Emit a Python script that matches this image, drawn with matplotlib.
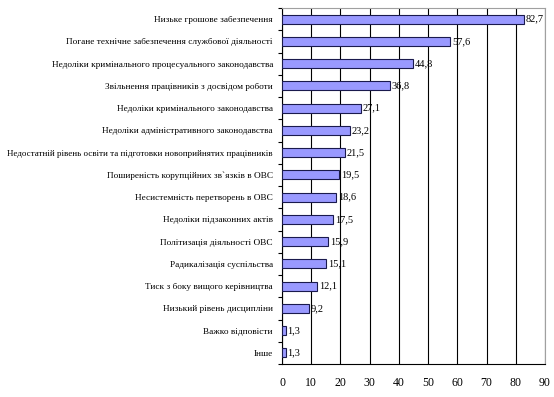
import numpy as np
import matplotlib
matplotlib.use('Agg')
import matplotlib.pyplot as plt

categories = [
    'Низьке грошове забезпечення',
    'Погане технічне забезпечення службової діяльності',
    'Недоліки кримінального процесуального законодавства',
    'Звільнення працівників з досвідом роботи',
    'Недоліки кримінального законодавства',
    'Недоліки адміністративного законодавства',
    'Недостатній рівень освіти та підготовки новоприйнятих працівників',
    'Поширеність корупційних зв`язків в ОВС',
    'Несистемність перетворень в ОВС',
    'Недоліки підзаконних актів',
    'Політизація діяльності ОВС',
    'Радикалізація суспільства',
    'Тиск з боку вищого керівництва',
    'Низький рівень дисципліни',
    'Важко відповісти',
    'Інше',
]
values = [82.7, 57.6, 44.8, 36.8, 27.1, 23.2, 21.5, 19.5, 18.6, 17.5,
          15.9, 15.1, 12.1, 9.2, 1.3, 1.3]
xticks = list(range(0, 100, 10))

plt.rcParams['font.family'] = ['Liberation Serif', 'DejaVu Serif']

fig = plt.figure(figsize=(5.54, 3.97), dpi=100)
ax = fig.add_axes([282 / 554, 1 - 364 / 397, 263 / 554, 356 / 397])

y = np.arange(len(categories))
ax.barh(y, values, height=0.4, color='#9999ff', edgecolor='#1a1a4d', linewidth=0.8, zorder=3)
for yi, v in zip(y, values):
    ax.text(v + 0.6, yi, f'{v:.1f}'.replace('.', ','), va='center', ha='left', fontsize=7.5, zorder=4)

ax.set_ylim(len(categories) - 0.5, -0.5)
ax.set_xlim(0, 90)
ax.set_xticks(xticks)
ax.set_yticks(y)
ax.set_yticklabels(categories, fontsize=6.7)
ax.set_yticks(np.arange(-0.5, len(categories), 1), minor=True)
ax.tick_params(axis='y', which='major', length=0, pad=6.5)
ax.tick_params(axis='y', which='minor', length=3, width=0.8, direction='out')
ax.tick_params(axis='x', length=0, labelsize=8.5, pad=9)

# the longest label is a bit wider in this font than in the original
ax.get_yticklabels()[6].set_fontsize(6.5)

ax.grid(axis='x', color='black', linewidth=0.8, zorder=0)
ax.spines['left'].set_color('black')
ax.spines['bottom'].set_color('black')
ax.spines['top'].set_color('#a0a0a0')
ax.spines['right'].set_color('#a0a0a0')
for s in ax.spines.values():
    s.set_linewidth(0.8)

fig.savefig('out.png', dpi=100)
